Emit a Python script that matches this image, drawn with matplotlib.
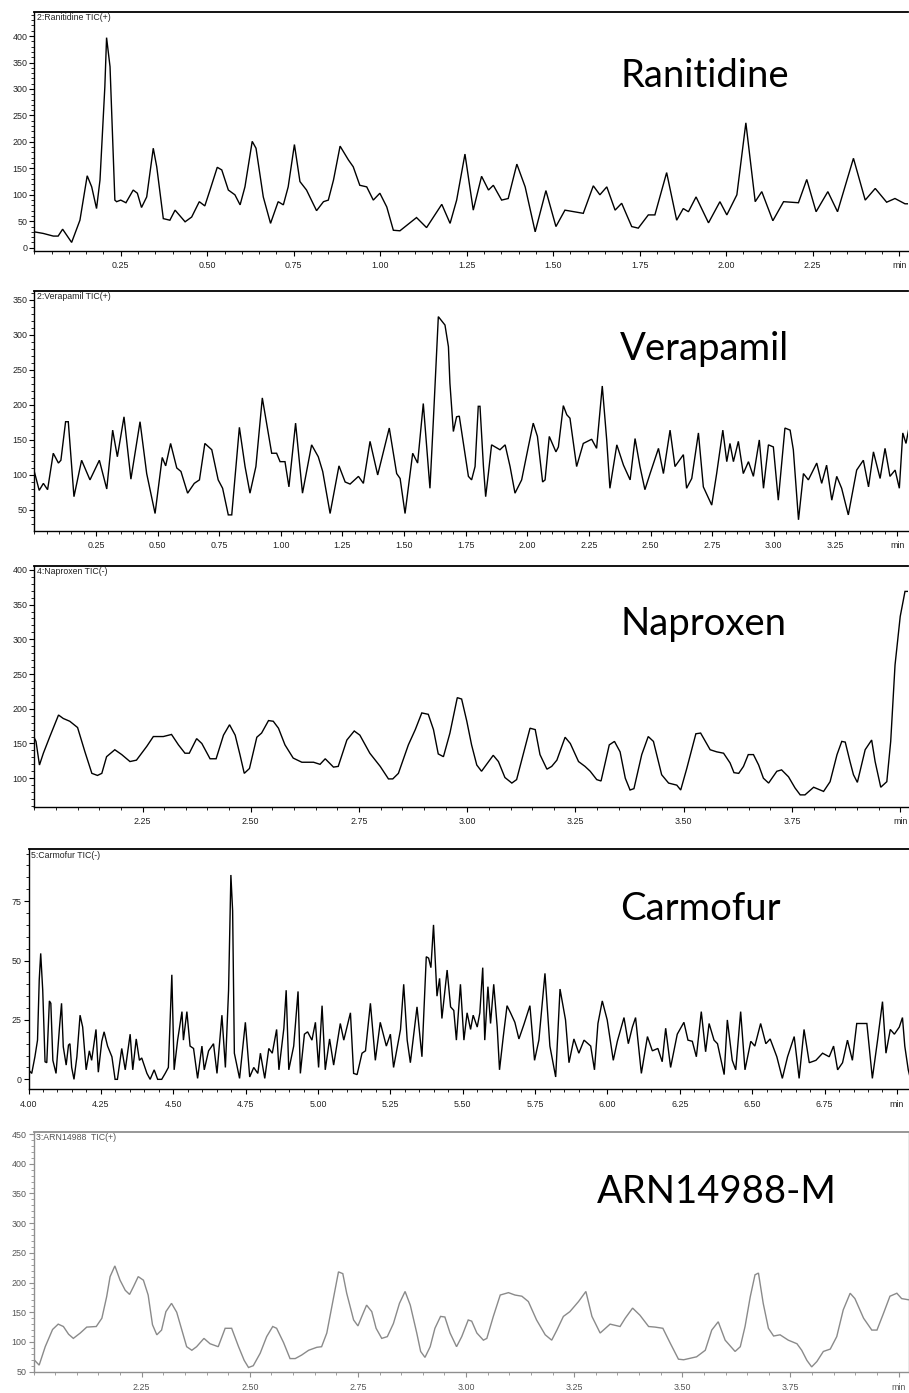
import matplotlib
matplotlib.use("Agg")
import matplotlib.pyplot as plt
from matplotlib.ticker import MultipleLocator, FixedLocator, FixedFormatter

# ---------------- data: total ion chromatograms (time in min, intensity) ----------------
ranitidine_t = [0.000, 0.026, 0.055, 0.069, 0.082, 0.108, 0.132, 0.153, 0.166, 0.180, 0.190, 0.204,
                0.209, 0.219, 0.233, 0.238, 0.250, 0.265, 0.286, 0.298, 0.310, 0.325, 0.344, 0.354,
                0.373, 0.392, 0.407, 0.436, 0.455, 0.477, 0.493, 0.508, 0.529, 0.542, 0.561, 0.580,
                0.595, 0.609, 0.630, 0.641, 0.662, 0.683, 0.705, 0.720, 0.734, 0.752, 0.768, 0.787,
                0.816, 0.836, 0.850, 0.865, 0.884, 0.908, 0.922, 0.941, 0.961, 0.980, 0.999, 1.019,
                1.038, 1.057, 1.105, 1.134, 1.178, 1.202, 1.221, 1.245, 1.269, 1.293, 1.313, 1.327,
                1.351, 1.370, 1.395, 1.419, 1.448, 1.479, 1.508, 1.534, 1.587, 1.616, 1.635, 1.655,
                1.679, 1.698, 1.727, 1.746, 1.775, 1.794, 1.828, 1.857, 1.876, 1.891, 1.913, 1.949,
                1.982, 2.002, 2.031, 2.057, 2.084, 2.103, 2.135, 2.166, 2.209, 2.233, 2.260, 2.294,
                2.322, 2.368, 2.402, 2.431, 2.464, 2.488, 2.517, 2.529]
ranitidine_i = [30, 27, 22, 22, 35, 10, 52, 136, 115, 74, 128, 304,
                397, 342, 90, 87, 90, 85, 109, 103, 76, 96, 188, 153,
                55, 52, 71, 49, 58, 87, 79, 109, 152, 147, 109, 100,
                81, 115, 201, 188, 96, 46, 87, 81, 115, 195, 125, 109,
                70, 87, 90, 128, 192, 166, 153, 118, 115, 90, 103, 77,
                33, 32, 57, 38, 82, 46, 90, 177, 71, 135, 109, 118,
                90, 93, 158, 115, 30, 108, 40, 71, 65, 117, 100, 115,
                71, 84, 40, 37, 62, 62, 142, 52, 74, 68, 96, 47,
                87, 62, 100, 236, 87, 106, 51, 87, 85, 129, 68, 106,
                68, 169, 90, 112, 86, 93, 83, 83]

verapamil_t = [0.000, 0.020, 0.037, 0.054, 0.077, 0.098, 0.108, 0.127, 0.138, 0.161, 0.192, 0.226,
               0.264, 0.294, 0.318, 0.337, 0.364, 0.392, 0.429, 0.456, 0.490, 0.519, 0.533, 0.553,
               0.578, 0.595, 0.622, 0.649, 0.670, 0.692, 0.720, 0.746, 0.764, 0.787, 0.801, 0.832,
               0.855, 0.875, 0.899, 0.925, 0.963, 0.983, 0.997, 1.017, 1.033, 1.060, 1.088, 1.125,
               1.152, 1.170, 1.200, 1.236, 1.261, 1.281, 1.315, 1.335, 1.362, 1.393, 1.440, 1.470,
               1.484, 1.504, 1.535, 1.555, 1.578, 1.605, 1.619, 1.639, 1.666, 1.680, 1.686, 1.700,
               1.713, 1.724, 1.743, 1.761, 1.774, 1.788, 1.801, 1.808, 1.822, 1.831, 1.842, 1.855,
               1.889, 1.910, 1.930, 1.950, 1.977, 2.004, 2.024, 2.041, 2.062, 2.072, 2.089, 2.116,
               2.126, 2.146, 2.160, 2.173, 2.200, 2.227, 2.261, 2.281, 2.304, 2.322, 2.335, 2.363,
               2.390, 2.417, 2.437, 2.457, 2.477, 2.498, 2.532, 2.552, 2.579, 2.599, 2.633, 2.646,
               2.667, 2.694, 2.714, 2.748, 2.768, 2.793, 2.809, 2.822, 2.836, 2.856, 2.876, 2.897,
               2.917, 2.941, 2.958, 2.978, 2.998, 3.018, 3.045, 3.066, 3.079, 3.100, 3.120, 3.140,
               3.174, 3.194, 3.214, 3.235, 3.255, 3.275, 3.302, 3.336, 3.363, 3.384, 3.404, 3.431,
               3.451, 3.471, 3.492, 3.509, 3.523, 3.536, 3.549]
verapamil_i = [105, 78, 88, 79, 131, 117, 121, 176, 176, 69, 121, 93,
               121, 80, 164, 126, 183, 94, 176, 102, 45, 125, 113, 145,
               110, 105, 74, 88, 93, 145, 136, 93, 81, 43, 43, 168,
               112, 74, 112, 210, 131, 131, 119, 119, 83, 174, 74, 143,
               126, 105, 45, 113, 90, 87, 98, 88, 148, 100, 167, 102,
               95, 45, 131, 117, 202, 81, 179, 326, 314, 283, 231, 162,
               183, 184, 140, 98, 93, 112, 198, 198, 112, 69, 102, 143,
               136, 143, 112, 74, 93, 140, 174, 155, 90, 93, 155, 133,
               140, 199, 186, 181, 112, 145, 151, 138, 227, 150, 81, 143,
               114, 93, 152, 112, 79, 102, 138, 102, 164, 112, 129, 81,
               95, 160, 83, 57, 102, 164, 119, 145, 119, 148, 102, 119,
               98, 150, 81, 143, 140, 64, 167, 164, 136, 36, 102, 93,
               117, 88, 114, 64, 98, 81, 43, 107, 121, 83, 133, 95,
               138, 98, 107, 81, 160, 145, 169]

naproxen_t = [2.000, 2.004, 2.012, 2.021, 2.036, 2.056, 2.067, 2.082, 2.100, 2.117, 2.133, 2.146,
              2.156, 2.167, 2.186, 2.202, 2.221, 2.236, 2.260, 2.275, 2.298, 2.317, 2.333, 2.348,
              2.358, 2.375, 2.387, 2.406, 2.420, 2.437, 2.451, 2.464, 2.475, 2.485, 2.497, 2.514,
              2.525, 2.541, 2.552, 2.564, 2.579, 2.598, 2.618, 2.645, 2.660, 2.672, 2.691, 2.702,
              2.722, 2.739, 2.752, 2.775, 2.799, 2.818, 2.828, 2.841, 2.864, 2.880, 2.895, 2.910,
              2.922, 2.933, 2.945, 2.960, 2.977, 2.987, 2.999, 3.010, 3.022, 3.033, 3.047, 3.060,
              3.072, 3.087, 3.103, 3.114, 3.130, 3.145, 3.157, 3.168, 3.184, 3.195, 3.207, 3.226,
              3.238, 3.257, 3.272, 3.284, 3.299, 3.309, 3.328, 3.340, 3.353, 3.365, 3.376, 3.385,
              3.403, 3.418, 3.430, 3.449, 3.465, 3.484, 3.493, 3.507, 3.528, 3.539, 3.561, 3.576,
              3.592, 3.607, 3.616, 3.627, 3.638, 3.649, 3.661, 3.673, 3.684, 3.696, 3.715, 3.726,
              3.742, 3.757, 3.769, 3.780, 3.800, 3.823, 3.838, 3.854, 3.865, 3.873, 3.884, 3.892,
              3.901, 3.919, 3.934, 3.942, 3.955, 3.969, 3.978, 3.988, 4.000, 4.011, 4.021]
naproxen_i = [158, 153, 119, 136, 160, 191, 186, 182, 173, 138, 107, 104,
              107, 131, 141, 134, 124, 126, 146, 160, 160, 163, 148, 136,
              136, 157, 150, 128, 128, 162, 177, 162, 134, 107, 114, 159,
              165, 183, 182, 172, 148, 129, 123, 123, 120, 128, 116, 117,
              155, 168, 162, 136, 117, 99, 99, 107, 148, 170, 194, 192,
              170, 135, 131, 165, 216, 214, 182, 148, 119, 110, 122, 133,
              124, 101, 93, 98, 136, 172, 170, 134, 113, 117, 126, 159,
              150, 124, 117, 110, 98, 96, 148, 153, 138, 100, 83, 85,
              134, 160, 153, 105, 93, 90, 83, 114, 164, 165, 141, 138,
              136, 122, 108, 107, 117, 134, 134, 119, 100, 93, 110, 112,
              102, 86, 76, 76, 87, 81, 95, 134, 153, 152, 124, 105,
              94, 141, 155, 124, 87, 95, 153, 263, 333, 369, 369]

carmofur_t = [4.000, 4.011, 4.022, 4.031, 4.037, 4.042, 4.049, 4.057, 4.063, 4.072, 4.077, 4.084,
              4.095, 4.107, 4.114, 4.120, 4.130, 4.138, 4.143, 4.149, 4.157, 4.167, 4.178, 4.187,
              4.199, 4.210, 4.218, 4.233, 4.241, 4.253, 4.261, 4.273, 4.288, 4.299, 4.307, 4.322,
              4.334, 4.351, 4.360, 4.372, 4.383, 4.391, 4.409, 4.420, 4.434, 4.446, 4.460, 4.472,
              4.483, 4.495, 4.503, 4.515, 4.530, 4.535, 4.547, 4.558, 4.570, 4.584, 4.599, 4.607,
              4.622, 4.639, 4.651, 4.668, 4.680, 4.691, 4.699, 4.705, 4.711, 4.729, 4.749, 4.764,
              4.778, 4.792, 4.801, 4.816, 4.830, 4.842, 4.857, 4.865, 4.882, 4.890, 4.899, 4.916,
              4.931, 4.939, 4.953, 4.964, 4.979, 4.991, 5.002, 5.014, 5.025, 5.040, 5.054, 5.077,
              5.089, 5.112, 5.123, 5.135, 5.152, 5.164, 5.181, 5.198, 5.215, 5.236, 5.250, 5.261,
              5.285, 5.296, 5.308, 5.319, 5.342, 5.359, 5.374, 5.382, 5.390, 5.399, 5.411, 5.420,
              5.428, 5.446, 5.458, 5.469, 5.478, 5.492, 5.504, 5.515, 5.527, 5.536, 5.550, 5.559,
              5.569, 5.576, 5.587, 5.596, 5.607, 5.619, 5.627, 5.640, 5.653, 5.665, 5.680, 5.694,
              5.711, 5.732, 5.748, 5.763, 5.784, 5.801, 5.821, 5.836, 5.855, 5.867, 5.884, 5.901,
              5.919, 5.942, 5.955, 5.967, 5.982, 5.999, 6.020, 6.034, 6.057, 6.072, 6.086, 6.097,
              6.117, 6.138, 6.155, 6.174, 6.189, 6.201, 6.218, 6.241, 6.264, 6.278, 6.293, 6.307,
              6.324, 6.339, 6.351, 6.368, 6.380, 6.403, 6.414, 6.431, 6.443, 6.460, 6.475, 6.495,
              6.509, 6.529, 6.547, 6.562, 6.585, 6.604, 6.622, 6.645, 6.662, 6.679, 6.697, 6.720,
              6.743, 6.766, 6.781, 6.795, 6.812, 6.829, 6.846, 6.861, 6.881, 6.896, 6.915, 6.933,
              6.950, 6.962, 6.977, 6.991, 7.008, 7.019, 7.027, 7.039, 7.045]
carmofur_i = [4, 2.5, 9.5, 16.5, 42, 53, 37.5, 7.4, 7, 33, 32, 8,
              2.5, 22, 32, 13.7, 6, 14.4, 15, 5, 0, 9.5, 27, 22,
              4, 12, 8, 21, 3, 16, 20, 14, 9.5, 0, 0, 13,
              4, 19, 4, 17, 8, 9, 2.5, 0, 4, 0, 0, 2.5,
              5, 44, 4, 16.5, 28.5, 16.5, 28.5, 14, 13, 0.4, 14, 4,
              12, 15, 2.5, 27, 5, 37.5, 86, 71, 11, 0.4, 24, 1,
              5, 2.5, 11, 0.4, 13, 11, 21, 4, 21.5, 37.5, 4, 14,
              37, 2.5, 19, 20, 16.5, 24, 5, 31, 4, 17, 6, 23.5,
              16.5, 28, 2.5, 2, 11, 12, 32, 8, 24, 14, 19, 5,
              21, 40, 16.5, 7, 30.5, 9.5, 51.6, 51, 47, 65, 35, 42.5,
              25.6, 46, 30.5, 29, 16.5, 40, 16.5, 28, 21, 27, 22, 28,
              47, 16.5, 39, 23.5, 40, 22, 4, 18, 31, 28, 24, 17,
              23, 31, 8, 16.5, 44.6, 14, 1, 38, 25, 7, 17, 11,
              16.5, 14, 4, 23.5, 33, 25, 8, 16, 26, 15, 22, 26,
              2.5, 18, 12, 13, 7.4, 21.5, 5, 19, 24, 16.5, 16, 9.5,
              28.5, 11.6, 23.5, 16.5, 15, 2, 25, 8, 4, 28.5, 4, 16,
              14, 23.5, 15, 17, 9.5, 0.4, 9.5, 18, 0.4, 21, 7, 8,
              11, 9.5, 14, 4, 7, 16.5, 8, 23.5, 23.5, 23.5, 0.4, 16.5,
              32.7, 11, 21, 19, 22, 26, 14, 4, 1]

arn_t = [2.000, 2.013, 2.027, 2.044, 2.057, 2.069, 2.081, 2.092, 2.108, 2.123, 2.145, 2.158,
         2.169, 2.177, 2.188, 2.200, 2.212, 2.222, 2.231, 2.242, 2.254, 2.265, 2.275, 2.285,
         2.296, 2.306, 2.319, 2.331, 2.343, 2.354, 2.366, 2.377, 2.394, 2.408, 2.427, 2.443,
         2.458, 2.474, 2.487, 2.497, 2.508, 2.524, 2.539, 2.553, 2.562, 2.578, 2.593, 2.605,
         2.620, 2.636, 2.655, 2.666, 2.678, 2.692, 2.705, 2.715, 2.724, 2.740, 2.750, 2.759,
         2.770, 2.782, 2.792, 2.805, 2.818, 2.832, 2.846, 2.859, 2.871, 2.886, 2.895, 2.905,
         2.917, 2.928, 2.941, 2.951, 2.963, 2.978, 2.990, 3.005, 3.013, 3.025, 3.040, 3.048,
         3.063, 3.079, 3.098, 3.113, 3.129, 3.144, 3.163, 3.183, 3.198, 3.210, 3.225, 3.240,
         3.260, 3.277, 3.291, 3.310, 3.333, 3.356, 3.368, 3.385, 3.402, 3.422, 3.437, 3.455,
         3.472, 3.491, 3.503, 3.533, 3.553, 3.568, 3.583, 3.599, 3.622, 3.634, 3.645, 3.657,
         3.668, 3.676, 3.687, 3.699, 3.711, 3.726, 3.745, 3.765, 3.776, 3.788, 3.799, 3.811,
         3.826, 3.842, 3.857, 3.872, 3.888, 3.899, 3.919, 3.938, 3.950, 3.965, 3.980, 3.996,
         4.007, 4.023]
arn_i = [71, 61, 92, 121, 130, 126, 113, 106, 115, 125, 126, 140,
         176, 210, 228, 204, 187, 180, 193, 210, 204, 179, 129, 112,
         120, 151, 165, 150, 120, 92, 86, 92, 106, 97, 92, 123,
         123, 92, 69, 57, 60, 81, 109, 126, 123, 99, 72, 72,
         78, 86, 91, 92, 115, 168, 218, 215, 182, 137, 127, 143,
         162, 151, 123, 106, 109, 131, 165, 185, 162, 115, 84, 74,
         92, 123, 143, 142, 115, 92, 109, 137, 135, 115, 103, 106,
         143, 179, 183, 179, 177, 168, 137, 112, 103, 120, 143, 151,
         168, 185, 143, 115, 130, 126, 140, 157, 145, 126, 125, 123,
         98, 71, 70, 75, 86, 120, 134, 103, 84, 92, 126, 176,
         213, 216, 165, 123, 110, 112, 103, 97, 86, 69, 58, 67,
         84, 88, 109, 154, 182, 173, 140, 120, 120, 148, 177, 182,
         173, 171]

# ---------------- panel definitions ----------------
names = ["Ranitidine", "Verapamil", "Naproxen", "Carmofur", "ARN14988-M"]
trace_titles = ["2:Ranitidine TIC(+)", "2:Verapamil TIC(+)", "4:Naproxen TIC(-)",
                "5:Carmofur TIC(-)", "3:ARN14988  TIC(+)"]
times = [ranitidine_t, verapamil_t, naproxen_t, carmofur_t, arn_t]
intens = [ranitidine_i, verapamil_i, naproxen_i, carmofur_i, arn_i]
xlims = [(0.0, 2.527), (0.0, 3.546), (2.0, 4.019), (4.0, 7.040), (2.0, 4.023)]
ylims = [(-5.7, 446), (20.4, 363), (59, 406), (-4.2, 96.8), (49, 454)]
xmajor = [[0.25, 0.50, 0.75, 1.00, 1.25, 1.50, 1.75, 2.00, 2.25, 2.50],
          [0.25, 0.50, 0.75, 1.00, 1.25, 1.50, 1.75, 2.00, 2.25, 2.50, 2.75, 3.00, 3.25, 3.50],
          [2.25, 2.50, 2.75, 3.00, 3.25, 3.50, 3.75, 4.00],
          [4.00, 4.25, 4.50, 4.75, 5.00, 5.25, 5.50, 5.75, 6.00, 6.25, 6.50, 6.75, 7.00],
          [2.25, 2.50, 2.75, 3.00, 3.25, 3.50, 3.75, 4.00]]
yticks = [[0, 50, 100, 150, 200, 250, 300, 350, 400],
          [50, 100, 150, 200, 250, 300, 350],
          [100, 150, 200, 250, 300, 350, 400],
          [0, 25, 50, 75],
          [50, 100, 150, 200, 250, 300, 350, 400, 450]]
yminor = [10, 10, 10, 5, 10]

# axes rectangles in figure fractions
rects = [[0.0377, 0.8200, 0.9617, 0.1716],
         [0.0377, 0.6190, 0.9617, 0.1723],
         [0.0377, 0.4209, 0.9617, 0.1730],
         [0.0314, 0.2180, 0.9681, 0.1723],
         [0.0369, 0.0149, 0.9626, 0.1727]]
# big compound names: (left px, baseline px)
name_pos = [(620, 87), (620, 360), (620, 635), (620, 920), (597, 1203)]

W, H = 909, 1393
fig = plt.figure(figsize=(W / 100, H / 100), dpi=100)

for k in range(5):
    gray = (k == 4)
    line_c = "#8a8a8a" if gray else "black"
    axis_c = "#8f8f8f" if gray else "black"
    label_c = "#555555" if gray else "#222222"

    ax = fig.add_axes(rects[k])
    ax.plot(times[k], intens[k], color=line_c, lw=1.0, solid_joinstyle="miter")
    ax.set_xlim(*xlims[k])
    ax.set_ylim(*ylims[k])

    for side in ["left", "bottom", "top", "right"]:
        ax.spines[side].set_color(axis_c)
        ax.spines[side].set_linewidth(1.0)
    ax.spines["top"].set_linewidth(1.3)
    if not gray:
        ax.spines["right"].set_visible(False)

    labels = ["%.2f" % v for v in xmajor[k][:-1]] + ["min"]
    ax.xaxis.set_major_locator(FixedLocator(xmajor[k]))
    ax.xaxis.set_major_formatter(FixedFormatter(labels))
    ax.xaxis.set_minor_locator(MultipleLocator(0.05))
    ax.yaxis.set_major_locator(FixedLocator(yticks[k]))
    ax.yaxis.set_minor_locator(MultipleLocator(yminor[k]))

    ax.tick_params(axis="both", which="major", direction="out", length=3.5, width=0.8,
                   color=axis_c, labelsize=6.4, labelcolor=label_c, pad=1.5)
    ax.tick_params(axis="x", which="major", pad=4)
    ax.tick_params(axis="both", which="minor", direction="out", length=2, width=0.6,
                   color=axis_c)
    for lab in ax.get_xticklabels() + ax.get_yticklabels():
        lab.set_fontfamily("Liberation Sans")

    ax.text(0.003, 0.995, trace_titles[k], transform=ax.transAxes, ha="left", va="top",
            fontsize=6.3, color=label_c, family="Liberation Sans")

    px, py = name_pos[k]
    fig.text(px / W, 1 - py / H, names[k], ha="left", va="baseline",
             fontsize=27.5, family="Lato", color="black")

fig.savefig("out.png", dpi=100, facecolor="white")
